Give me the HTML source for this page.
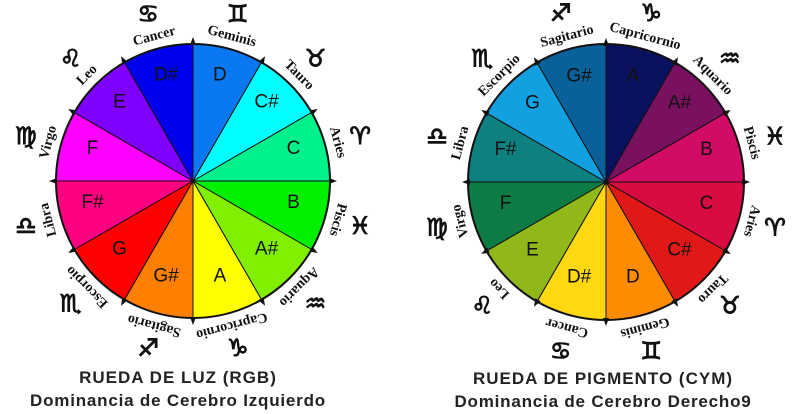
<!DOCTYPE html>
<html><head><meta charset="utf-8"><style>
html,body{margin:0;padding:0;background:#fff;width:794px;height:414px;overflow:hidden}
svg{display:block}
.n{font-family:"Liberation Serif",serif;font-weight:bold;font-size:14px;text-anchor:middle;fill:#111}
.l{font-family:"Liberation Sans",sans-serif;font-size:19px;text-anchor:middle;fill:#111}
.s{font-family:"DejaVu Sans",sans-serif;font-weight:bold;font-size:24px;text-anchor:middle;fill:#111;stroke:#111;stroke-width:1}
.t{font-family:"Liberation Sans",sans-serif;font-weight:bold;font-size:17px;text-anchor:middle;fill:#222;letter-spacing:1px}
</style></head><body>
<svg width="794" height="414" viewBox="0 0 794 414" xmlns="http://www.w3.org/2000/svg">
<defs>
<path id="sl" d="M0,0 L0,-137 A137,137 0 0 1 68.5,-118.6 Z" stroke="#111" stroke-width="1"/>
<path id="sr" d="M0,0 L0,-138 A138,138 0 0 1 69,-119.5 Z" stroke="#111" stroke-width="1"/>
<path id="tk" d="M-3,-136 L3,-136 L0,-144 Z" fill="#111"/>
</defs>
<!-- LEFT WHEEL -->
<g transform="translate(193,181)">
<use href="#sl" transform="rotate(0)" fill="#0a78f0"/>
<use href="#sl" transform="rotate(30)" fill="#00ffff"/>
<use href="#sl" transform="rotate(60)" fill="#00f08c"/>
<use href="#sl" transform="rotate(90)" fill="#00f000"/>
<use href="#sl" transform="rotate(120)" fill="#80f000"/>
<use href="#sl" transform="rotate(150)" fill="#ffff00"/>
<use href="#sl" transform="rotate(180)" fill="#ff8000"/>
<use href="#sl" transform="rotate(210)" fill="#ff0000"/>
<use href="#sl" transform="rotate(240)" fill="#ff0080"/>
<use href="#sl" transform="rotate(270)" fill="#ff00ff"/>
<use href="#sl" transform="rotate(300)" fill="#8000ff"/>
<use href="#sl" transform="rotate(330)" fill="#0000f0"/>
<circle r="137" fill="none" stroke="#111" stroke-width="2"/>
<use href="#tk" transform="rotate(0)"/><use href="#tk" transform="rotate(30)"/><use href="#tk" transform="rotate(60)"/><use href="#tk" transform="rotate(90)"/><use href="#tk" transform="rotate(120)"/><use href="#tk" transform="rotate(150)"/><use href="#tk" transform="rotate(180)"/><use href="#tk" transform="rotate(210)"/><use href="#tk" transform="rotate(240)"/><use href="#tk" transform="rotate(270)"/><use href="#tk" transform="rotate(300)"/><use href="#tk" transform="rotate(330)"/>
<g transform="rotate(15) translate(0,-104) rotate(-15)"><text class="l">D</text></g>
<g transform="rotate(45) translate(0,-104) rotate(-45)"><text class="l">C#</text></g>
<g transform="rotate(75) translate(0,-104) rotate(-75)"><text class="l">C</text></g>
<g transform="rotate(105) translate(0,-104) rotate(-105)"><text class="l">B</text></g>
<g transform="rotate(135) translate(0,-104) rotate(-135)"><text class="l">A#</text></g>
<g transform="rotate(165) translate(0,-104) rotate(-165)"><text class="l">A</text></g>
<g transform="rotate(195) translate(0,-104) rotate(-195)"><text class="l">G#</text></g>
<g transform="rotate(225) translate(0,-104) rotate(-225)"><text class="l">G</text></g>
<g transform="rotate(255) translate(0,-104) rotate(-255)"><text class="l">F#</text></g>
<g transform="rotate(285) translate(0,-104) rotate(-285)"><text class="l">F</text></g>
<g transform="rotate(315) translate(0,-104) rotate(-315)"><text class="l">E</text></g>
<g transform="rotate(345) translate(0,-104) rotate(-345)"><text class="l">D#</text></g>
<text class="n" transform="rotate(15)" y="-146">Geminis</text>
<text class="n" transform="rotate(45)" y="-146">Tauro</text>
<text class="n" transform="rotate(75)" y="-146">Aries</text>
<text class="n" transform="rotate(105)" y="-146">Piscis</text>
<text class="n" transform="rotate(135)" y="-146">Aquario</text>
<text class="n" transform="rotate(165)" y="-146">Capricornio</text>
<text class="n" transform="rotate(195)" y="-146">Sagitario</text>
<text class="n" transform="rotate(225)" y="-146">Escorpio</text>
<text class="n" transform="rotate(255)" y="-146">Libra</text>
<text class="n" transform="rotate(285)" y="-146">Virgo</text>
<text class="n" transform="rotate(315)" y="-146">Leo</text>
<text class="n" transform="rotate(345)" y="-146">Cancer</text>
<g transform="rotate(15) translate(0,-173) rotate(-15)"><text class="s" y="8">♊&#xFE0E;</text></g>
<g transform="rotate(45) translate(0,-173) rotate(-45)"><text class="s" y="8">♉&#xFE0E;</text></g>
<g transform="rotate(75) translate(0,-173) rotate(-75)"><text class="s" y="8">♈&#xFE0E;</text></g>
<g transform="rotate(105) translate(0,-173) rotate(-105)"><text class="s" y="8">♓&#xFE0E;</text></g>
<g transform="rotate(135) translate(0,-173) rotate(-135)"><text class="s" y="8">♒&#xFE0E;</text></g>
<g transform="rotate(165) translate(0,-173) rotate(-165)"><text class="s" y="8">♑&#xFE0E;</text></g>
<g transform="rotate(195) translate(0,-173) rotate(-195)"><text class="s" y="8">♐&#xFE0E;</text></g>
<g transform="rotate(225) translate(0,-173) rotate(-225)"><text class="s" y="8">♏&#xFE0E;</text></g>
<g transform="rotate(255) translate(0,-173) rotate(-255)"><text class="s" y="8">♎&#xFE0E;</text></g>
<g transform="rotate(285) translate(0,-173) rotate(-285)"><text class="s" y="8">♍&#xFE0E;</text></g>
<g transform="rotate(315) translate(0,-173) rotate(-315)"><text class="s" y="8">♌&#xFE0E;</text></g>
<g transform="rotate(345) translate(0,-173) rotate(-345)"><text class="s" y="8">♋&#xFE0E;</text></g>
</g>
<!-- RIGHT WHEEL -->
<g transform="translate(606,182)">
<use href="#sr" transform="rotate(0)" fill="#0a1260"/>
<use href="#sr" transform="rotate(30)" fill="#7a1060"/>
<use href="#sr" transform="rotate(60)" fill="#d20c64"/>
<use href="#sr" transform="rotate(90)" fill="#d80c40"/>
<use href="#sr" transform="rotate(120)" fill="#e01818"/>
<use href="#sr" transform="rotate(150)" fill="#ff8c00"/>
<use href="#sr" transform="rotate(180)" fill="#ffd810"/>
<use href="#sr" transform="rotate(210)" fill="#90b818"/>
<use href="#sr" transform="rotate(240)" fill="#0e7a44"/>
<use href="#sr" transform="rotate(270)" fill="#0e8080"/>
<use href="#sr" transform="rotate(300)" fill="#12a0e0"/>
<use href="#sr" transform="rotate(330)" fill="#0a6098"/>
<circle r="138" fill="none" stroke="#111" stroke-width="2"/>
<use href="#tk" transform="rotate(0)"/><use href="#tk" transform="rotate(30)"/><use href="#tk" transform="rotate(60)"/><use href="#tk" transform="rotate(90)"/><use href="#tk" transform="rotate(120)"/><use href="#tk" transform="rotate(150)"/><use href="#tk" transform="rotate(180)"/><use href="#tk" transform="rotate(210)"/><use href="#tk" transform="rotate(240)"/><use href="#tk" transform="rotate(270)"/><use href="#tk" transform="rotate(300)"/><use href="#tk" transform="rotate(330)"/>
<g transform="rotate(15) translate(0,-104) rotate(-15)"><text class="l">A</text></g>
<g transform="rotate(45) translate(0,-104) rotate(-45)"><text class="l">A#</text></g>
<g transform="rotate(75) translate(0,-104) rotate(-75)"><text class="l">B</text></g>
<g transform="rotate(105) translate(0,-104) rotate(-105)"><text class="l">C</text></g>
<g transform="rotate(135) translate(0,-104) rotate(-135)"><text class="l">C#</text></g>
<g transform="rotate(165) translate(0,-104) rotate(-165)"><text class="l">D</text></g>
<g transform="rotate(195) translate(0,-104) rotate(-195)"><text class="l">D#</text></g>
<g transform="rotate(225) translate(0,-104) rotate(-225)"><text class="l">E</text></g>
<g transform="rotate(255) translate(0,-104) rotate(-255)"><text class="l">F</text></g>
<g transform="rotate(285) translate(0,-104) rotate(-285)"><text class="l">F#</text></g>
<g transform="rotate(315) translate(0,-104) rotate(-315)"><text class="l">G</text></g>
<g transform="rotate(345) translate(0,-104) rotate(-345)"><text class="l">G#</text></g>
<text class="n" transform="rotate(15)" y="-147">Capricornio</text>
<text class="n" transform="rotate(45)" y="-147">Aquario</text>
<text class="n" transform="rotate(75)" y="-147">Piscis</text>
<text class="n" transform="rotate(105)" y="-147">Aries</text>
<text class="n" transform="rotate(135)" y="-147">Tauro</text>
<text class="n" transform="rotate(165)" y="-147">Geminis</text>
<text class="n" transform="rotate(195)" y="-147">Cancer</text>
<text class="n" transform="rotate(225)" y="-147">Leo</text>
<text class="n" transform="rotate(255)" y="-147">Virgo</text>
<text class="n" transform="rotate(285)" y="-147">Libra</text>
<text class="n" transform="rotate(315)" y="-147">Escorpio</text>
<text class="n" transform="rotate(345)" y="-147">Sagitario</text>
<g transform="rotate(15) translate(0,-175) rotate(-15)"><text class="s" y="8">♑&#xFE0E;</text></g>
<g transform="rotate(45) translate(0,-175) rotate(-45)"><text class="s" y="8">♒&#xFE0E;</text></g>
<g transform="rotate(75) translate(0,-175) rotate(-75)"><text class="s" y="8">♓&#xFE0E;</text></g>
<g transform="rotate(105) translate(0,-175) rotate(-105)"><text class="s" y="8">♈&#xFE0E;</text></g>
<g transform="rotate(135) translate(0,-175) rotate(-135)"><text class="s" y="8">♉&#xFE0E;</text></g>
<g transform="rotate(165) translate(0,-175) rotate(-165)"><text class="s" y="8">♊&#xFE0E;</text></g>
<g transform="rotate(195) translate(0,-175) rotate(-195)"><text class="s" y="8">♋&#xFE0E;</text></g>
<g transform="rotate(225) translate(0,-175) rotate(-225)"><text class="s" y="8">♌&#xFE0E;</text></g>
<g transform="rotate(255) translate(0,-175) rotate(-255)"><text class="s" y="8">♍&#xFE0E;</text></g>
<g transform="rotate(285) translate(0,-175) rotate(-285)"><text class="s" y="8">♎&#xFE0E;</text></g>
<g transform="rotate(315) translate(0,-175) rotate(-315)"><text class="s" y="8">♏&#xFE0E;</text></g>
<g transform="rotate(345) translate(0,-175) rotate(-345)"><text class="s" y="8">♐&#xFE0E;</text></g>
</g>
<text class="t" x="178" y="383">RUEDA DE LUZ (RGB)</text>
<text class="t" x="178" y="406" style="letter-spacing:0.8px">Dominancia de Cerebro Izquierdo</text>
<text class="t" x="603" y="384">RUEDA DE PIGMENTO (CYM)</text>
<text class="t" x="603" y="407" style="letter-spacing:0.8px">Dominancia de Cerebro Derecho9</text>
</svg>
</body></html>
